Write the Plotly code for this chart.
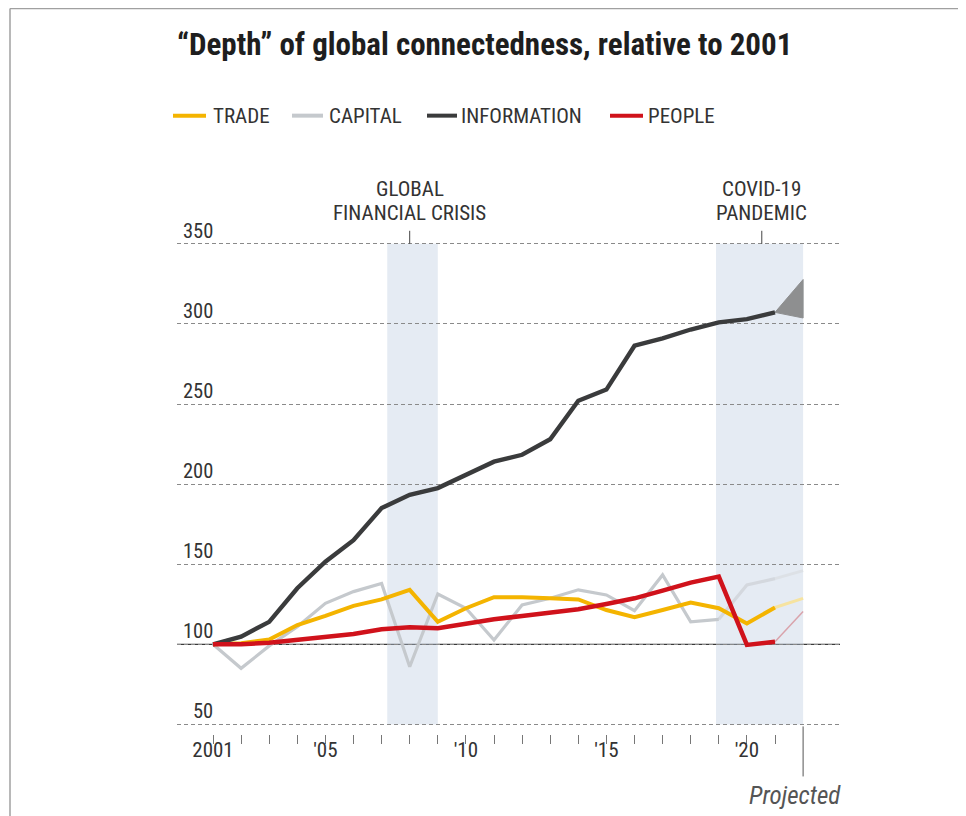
import plotly.graph_objects as go

# ---------------- data ----------------
years = list(range(2001, 2022))
trade = [100, 100.6, 103, 112, 117.7, 124, 128, 134, 114, 122.5, 129.4,
         129.4, 128.7, 128, 121.4, 116.9, 121.4, 126, 122.5, 113, 123]
capital = [100, 85, 99, 111, 125.6, 132.9, 138, 86, 131.4, 122.5, 102.7,
           124.6, 128.7, 134, 130.8, 121, 143.3, 114, 115.6, 137, 141]
information = [100, 104.8, 114, 135, 151.6, 165, 185, 193.3, 197.5, 205.8, 214,
               218.3, 228, 252, 259, 286.4, 291, 296.5, 301, 303, 307.2]
people = [100, 100, 101, 103, 104.8, 106.4, 109.4, 110.6, 110, 113, 115.6,
          117.7, 119.8, 121.9, 125.2, 128.7, 133.5, 138.5, 142.3, 99.6, 101.6]

proj_years = [2021, 2022]
trade_proj = [123, 128.7]
capital_proj = [141, 146]
people_proj = [101.6, 120.4]
info_proj_low, info_proj_high = 303.7, 327.7

series_names = ["TRADE", "CAPITAL", "INFORMATION", "PEOPLE"]
colors = {"TRADE": "#f4b400", "CAPITAL": "#c5c9cd", "INFORMATION": "#3a3b3c", "PEOPLE": "#d0121b"}
proj_colors = {"TRADE": "#f6e3a0", "CAPITAL": "#dde1e6", "PEOPLE": "#d9a3ab"}
capital_covid_color = "#d4d8de"

y_ticks = [50, 100, 150, 200, 250, 300, 350]
x_tickvals = list(range(2001, 2022))
x_labels = {2001: "2001", 2005: "'05", 2010: "'10", 2015: "'15", 2020: "'20"}
x_ticktext = [x_labels.get(y, "") for y in x_tickvals]

events = [(["GLOBAL", "FINANCIAL CRISIS"], 2008.0), (["COVID-19", "PANDEMIC"], 2020.53)]
shaded = [(2007.2, 2009.0), (2018.9, 2022.0)]

title_text = "\u201cDepth\u201d of global connectedness, relative to 2001"

# ---------------- geometry helpers (page pixel coords) ----------------
W, H = 966, 816
OFF = 8  # page body margin
PL, PR = 177, 840
PT, PB = 239.2, 733.6
XR = [2001 - (213 - PL) / 28.1, 2001 + (PR - 213) / 28.1]
YR = [44, 353]


def px_x(x):
    return (x - PL) / (PR - PL)


def px_y(y):
    return (PB - y) / (PB - PT)


FONT = "Liberation Sans Narrow, Roboto Condensed, DejaVu Sans Condensed, Arial Narrow, sans-serif"

fig = go.Figure()

# projected faint lines
fig.add_trace(go.Scatter(x=proj_years, y=capital_proj, mode="lines",
                         line=dict(color=proj_colors["CAPITAL"], width=3), showlegend=False, hoverinfo="skip"))
fig.add_trace(go.Scatter(x=proj_years, y=trade_proj, mode="lines",
                         line=dict(color=proj_colors["TRADE"], width=3), showlegend=False, hoverinfo="skip"))
fig.add_trace(go.Scatter(x=proj_years, y=people_proj, mode="lines",
                         line=dict(color=proj_colors["PEOPLE"], width=1.5), showlegend=False, hoverinfo="skip"))

# information projection cone
fig.add_trace(go.Scatter(x=[proj_years[0], proj_years[1], proj_years[1], proj_years[0]],
                         y=[information[-1], info_proj_high, info_proj_low, information[-1]],
                         mode="lines", fill="toself", fillcolor="#8e8f90",
                         line=dict(color="#8e8f90", width=1), showlegend=False, hoverinfo="skip"))

# capital during the pandemic period, drawn lighter
n_pre = years.index(2019) + 1
fig.add_trace(go.Scatter(x=years[n_pre - 1:], y=capital[n_pre - 1:], mode="lines",
                         line=dict(color=capital_covid_color, width=3.2), showlegend=False, hoverinfo="skip"))

data_map = {"TRADE": trade, "CAPITAL": capital[:n_pre], "INFORMATION": information, "PEOPLE": people}
x_map = {"TRADE": years, "CAPITAL": years[:n_pre], "INFORMATION": years, "PEOPLE": years}
widths = {"TRADE": 4, "CAPITAL": 3.2, "INFORMATION": 4.4, "PEOPLE": 4.5}
for name in ["CAPITAL", "TRADE", "INFORMATION", "PEOPLE"]:
    fig.add_trace(go.Scatter(x=x_map[name], y=data_map[name], mode="lines", name=name,
                             line=dict(color=colors[name], width=widths[name]),
                             showlegend=False))

shapes = []
for x0, x1 in shaded:
    shapes.append(dict(type="rect", xref="x", yref="y", x0=x0, x1=x1, y0=50, y1=350,
                       fillcolor="rgba(190,206,226,0.40)", line=dict(width=0), layer="below"))
shapes.append(dict(type="line", xref="paper", yref="y", x0=0, x1=1, y0=100, y1=100,
                   line=dict(color="#3a3a3a", width=1.3), layer="below"))
for _, ex in events:
    shapes.append(dict(type="line", xref="x", yref="paper", x0=ex, x1=ex,
                       y0=px_y(244), y1=px_y(231), line=dict(color="#444", width=1)))
shapes.append(dict(type="line", xref="x", yref="paper", x0=2022, x1=2022,
                   y0=px_y(726), y1=px_y(776), line=dict(color="#555", width=1)))
swatches = [(173, 206), (292, 323), (427, 457), (610, 643)]
text_x = [211, 327, 459, 646]
LEG_Y = 116
for (sx0, sx1), name in zip(swatches, series_names):
    shapes.append(dict(type="line", xref="paper", yref="paper", x0=px_x(sx0), x1=px_x(sx1),
                       y0=px_y(LEG_Y), y1=px_y(LEG_Y), line=dict(color=colors[name], width=4)))
shapes.append(dict(type="line", xref="paper", yref="paper", x0=px_x(10), x1=px_x(980),
                   y0=px_y(9), y1=px_y(9), line=dict(color="#a0a0a0", width=1.5)))
shapes.append(dict(type="line", xref="paper", yref="paper", x0=px_x(10), x1=px_x(10),
                   y0=px_y(9), y1=px_y(830), line=dict(color="#a0a0a0", width=1.5)))

annotations = []
annotations.append(dict(text=title_text, xref="paper", yref="paper", x=px_x(175), y=px_y(45),
                        xanchor="left", yanchor="middle", showarrow=False,
                        font=dict(family=FONT, size=31, color="#1e1e1e", weight="bold")))
for tx, name in zip(text_x, series_names):
    annotations.append(dict(text=name, xref="paper", yref="paper", x=px_x(tx), y=px_y(LEG_Y),
                            xanchor="left", yanchor="middle", showarrow=False,
                            font=dict(family=FONT, size=21, color="#333")))
for v in y_ticks:
    annotations.append(dict(text=str(v), xref="x", yref="y", x=2001, y=v, xanchor="right",
                            yanchor="bottom", showarrow=False, xshift=2, yshift=-1,
                            font=dict(family=FONT, size=20.5, color="#333")))
for lines, ex in events:
    for ln, yc in zip(lines, [189, 213]):
        annotations.append(dict(text=ln, xref="x", yref="paper", x=ex, y=px_y(yc),
                                xanchor="center", yanchor="middle", showarrow=False,
                                font=dict(family=FONT, size=21, color="#333")))
annotations.append(dict(text="<i>Projected</i>", xref="paper", yref="paper", x=px_x(843), y=px_y(795),
                        xanchor="right", yanchor="middle", showarrow=False,
                        font=dict(family=FONT, size=25, color="#555")))

fig.update_layout(
    width=W, height=H,
    margin=dict(l=PL - OFF, r=W - (PR - OFF), t=PT - OFF, b=H - (PB - OFF), pad=0),
    paper_bgcolor="white", plot_bgcolor="white",
    showlegend=False, hovermode=False,
    shapes=shapes, annotations=annotations,
    xaxis=dict(range=XR, tickvals=x_tickvals, ticktext=x_ticktext, ticks="outside",
               ticklen=9, tickwidth=1, tickcolor="#777", showgrid=False, zeroline=False,
               showline=False, ticklabelstandoff=-12,
               tickfont=dict(family=FONT, size=21, color="#333")),
    yaxis=dict(range=YR, tickvals=y_ticks, showticklabels=False, showgrid=True,
               gridcolor="#8a8a8a", gridwidth=1, griddash="4px,3px", zeroline=False,
               showline=False, ticks=""),
)

fig.write_html("out.html")
